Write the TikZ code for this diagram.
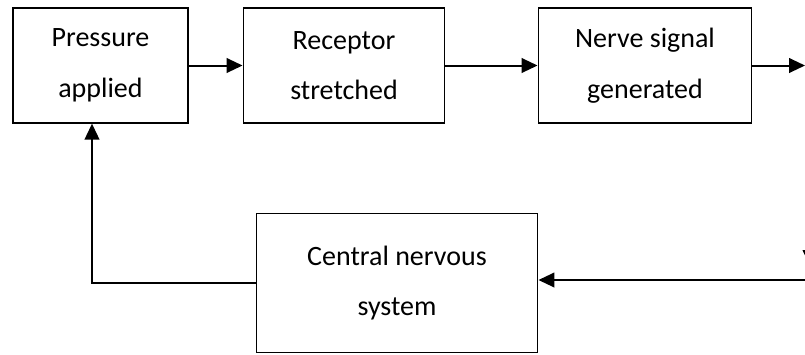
\documentclass[tikz,border=0pt]{standalone}
\usepackage{fontspec}
\setmainfont{Carlito}
\usepackage{tikz}
\usetikzlibrary{arrows.meta, calc}
\tikzstyle{stage} = [
    rectangle,
    draw=black,
    line width=1.2pt,
    align=center,
    inner sep=0pt,
    font=\fontsize{21}{38}\selectfont
]
\tikzstyle{arrow} = [
    line width=1.5pt,
    -{Triangle[length=12pt, width=11pt]}
]
\begin{document}
\begin{tikzpicture}[x=0.75pt, y=-0.75pt]
        \useasboundingbox (0,0) rectangle (805,354);
        \clip (0,0) rectangle (805,354);

        % Top row
        \node[stage, minimum width=131pt, minimum height=86pt] (pressure) at (100.5, 65.5) {Pressure\\applied};
        \node[stage, minimum width=151pt, minimum height=86pt] (receptor) at (344, 65.5) {Receptor\\stretched};
        \node[stage, minimum width=160pt, minimum height=86pt] (signal) at (645, 65.5) {Nerve signal\\generated};

        % Bottom row
        \node[stage, minimum width=211pt, minimum height=104pt] (cns) at (397, 283) {Central nervous\\system};

        % Loose ends at the right edge
        \coordinate (out) at (805, 65.5);
        \coordinate (down) at (810, 266);
        \coordinate (in) at (805, 280);

        % Connections
        \draw[arrow] (pressure) -- (receptor);
        \draw[arrow] (receptor) -- (signal);
        \draw[arrow] (signal) -- (out);
        \draw[arrow] (810, 200) -- (down);
        \draw[arrow] (in) -- (cns.east |- in);
        \draw[arrow] (cns.west) -| ($(pressure.south)+(-8.5,0)$);
    \end{tikzpicture}
\end{document}
